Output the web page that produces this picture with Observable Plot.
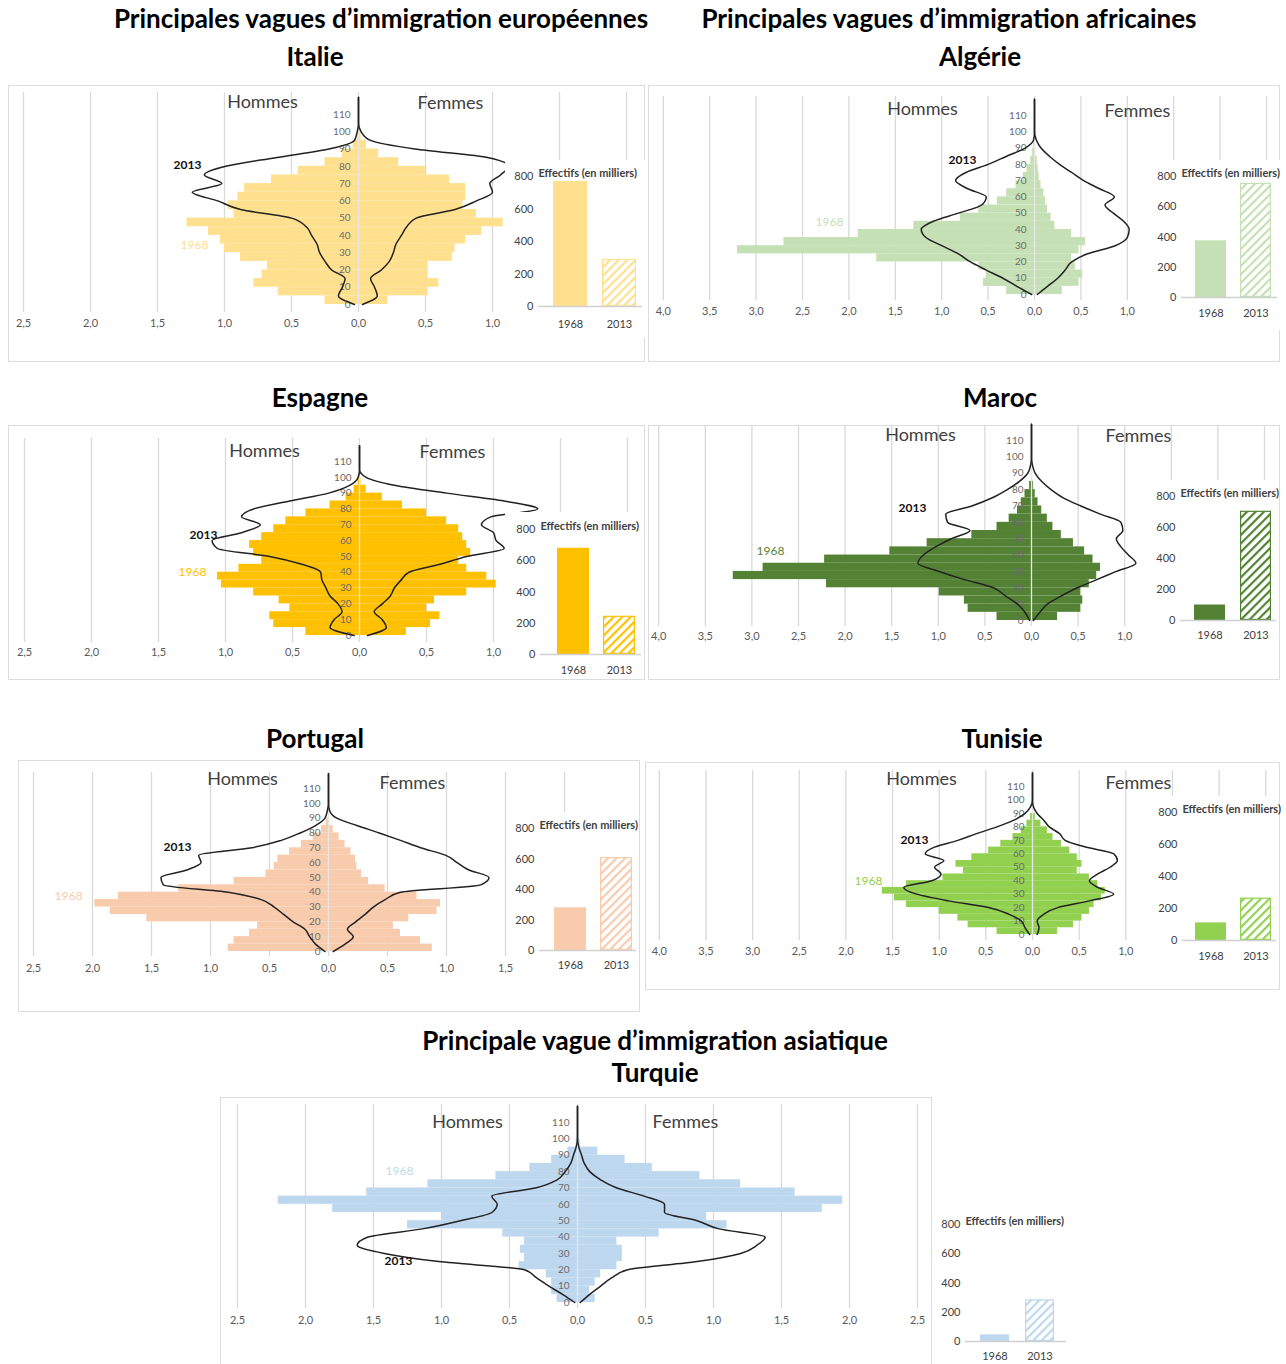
<!DOCTYPE html>
<html><head><meta charset="utf-8">
<script src="https://cdn.jsdelivr.net/npm/d3@7"></script>
<script src="https://cdn.jsdelivr.net/npm/@observablehq/plot@0.6"></script>
<style>
body{margin:0;background:#fff;font-family:Lato,"Open Sans",sans-serif}
#page{position:relative;width:1286px;height:1364px;overflow:hidden;background:#fff}
.t{position:absolute;font-weight:bold;color:#000;white-space:nowrap;transform:translate(-50%,-50%);font-size:26px;line-height:1}
.frame{position:absolute;border:1px solid #dcdcdc;box-sizing:border-box}
.abs{position:absolute}
</style></head><body><div id="page"></div>
<script>
// ---------- DATA ----------
const years = ["1968", "2013"];
const ages = [0,5,10,15,20,25,30,35,40,45,50,55,60,65,70,75,80,85,90,95,100,105,110,115,120];
const ageTicks = [0,10,20,30,40,50,60,70,80,90,100,110];
const ticksEurope = [-2.5,-2,-1.5,-1,-0.5,0,0.5,1,1.5,2];
const labelsEurope = [-2.5,-2,-1.5,-1,-0.5,0,0.5,1];
const labelsPortugal = [-2.5,-2,-1.5,-1,-0.5,0,0.5,1,1.5];
const ticksAfrique = [-4,-3.5,-3,-2.5,-2,-1.5,-1,-0.5,0,0.5,1,1.5,2,2.5];
const labelsAfrique = [-4,-3.5,-3,-2.5,-2,-1.5,-1,-0.5,0,0.5,1];
const ticksTurquie = [-2.5,-2,-1.5,-1,-0.5,0,0.5,1,1.5,2,2.5];
const effTicks = [0,200,400,600,800];

// Italie
const italieH1968 = [0.25,0.6,0.78,0.72,0.68,0.88,1.0,1.03,1.12,1.28,0.93,0.97,0.9,0.85,0.65,0.45,0.25,0.12,0.04,0.01,0,0,0,0,0];
const italieF1968 = [0.22,0.52,0.6,0.52,0.52,0.7,0.72,0.8,0.92,1.08,0.88,0.78,0.8,0.8,0.68,0.5,0.3,0.15,0.06,0.02,0,0,0,0,0];
const italieH2013 = [0.03,0.15,0.12,0.1,0.2,0.25,0.29,0.31,0.35,0.39,0.5,0.88,1.05,1.24,1.02,1.15,0.99,0.62,0.22,0.03,0.01,0,0,0,0];
const italieF2013 = [0.03,0.14,0.12,0.09,0.17,0.23,0.26,0.28,0.32,0.36,0.43,0.72,0.88,1.0,0.98,1.06,1.12,0.97,0.42,0.09,0.02,0,0,0,0];
const italieEffectifs = [770, 290];
// Algérie
const algerieH1968 = [0.3,0.55,0.52,0.6,1.7,3.2,2.7,1.9,1.3,0.8,0.6,0.4,0.3,0.2,0.12,0.08,0.04,0.02,0.01,0,0,0,0,0,0];
const algerieF1968 = [0.3,0.48,0.52,0.44,0.4,0.48,0.55,0.4,0.22,0.18,0.14,0.12,0.1,0.07,0.05,0.04,0.03,0.01,0,0,0,0,0,0,0];
const algerieH2013 = [0.03,0.19,0.34,0.52,0.69,0.82,1.0,1.17,1.22,1.09,0.82,0.57,0.52,0.72,0.85,0.74,0.5,0.3,0.1,0.01,0,0,0,0,0];
const algerieF2013 = [0.03,0.14,0.25,0.33,0.4,0.57,0.87,1.0,1.02,0.96,0.85,0.76,0.86,0.7,0.53,0.4,0.27,0.16,0.07,0.02,0,0,0,0,0];
const algerieEffectifs = [375, 755];
// Espagne
const espagneH1968 = [0.4,0.64,0.67,0.52,0.6,0.79,1.03,1.06,0.9,0.73,0.79,0.82,0.73,0.64,0.55,0.4,0.22,0.1,0.04,0.01,0,0,0,0,0];
const espagneF1968 = [0.35,0.53,0.6,0.5,0.56,0.8,1.02,0.95,0.8,0.74,0.83,0.8,0.77,0.74,0.65,0.5,0.32,0.17,0.05,0.01,0,0,0,0,0];
const espagneH2013 = [0.04,0.22,0.19,0.13,0.16,0.22,0.25,0.28,0.29,0.43,0.67,1.06,1.1,0.88,0.74,0.88,0.79,0.52,0.23,0.07,0.01,0,0,0,0];
const espagneF2013 = [0.06,0.2,0.17,0.11,0.17,0.23,0.26,0.31,0.37,0.6,0.8,1.08,1.02,1.0,0.91,0.98,1.33,1.08,0.65,0.26,0.05,0,0,0,0];
const espagneEffectifs = [680, 245];
// Maroc
const marocH1968 = [0.37,0.68,0.72,0.99,2.2,3.2,2.88,2.22,1.52,1.12,0.64,0.37,0.24,0.15,0.11,0.07,0.02,0,0,0,0,0,0,0,0];
const marocF1968 = [0.28,0.53,0.55,0.53,0.62,0.7,0.74,0.66,0.57,0.45,0.32,0.23,0.17,0.11,0.07,0.04,0.02,0,0,0,0,0,0,0,0];
const marocH2013 = [0.02,0.07,0.15,0.28,0.41,0.72,0.99,1.22,1.16,1.03,0.86,0.66,0.9,0.92,0.64,0.42,0.26,0.13,0.04,0.01,0,0,0,0,0];
const marocF2013 = [0.02,0.09,0.17,0.32,0.49,0.7,0.91,1.12,1.04,0.96,0.91,0.98,0.96,0.74,0.53,0.34,0.21,0.11,0.04,0.01,0,0,0,0,0];
const marocEffectifs = [100, 705];
// Portugal
const portugalH1968 = [0.85,0.8,0.67,0.6,1.54,1.85,1.98,1.78,1.27,0.8,0.53,0.46,0.43,0.33,0.23,0.13,0.06,0.02,0,0,0,0,0,0,0];
const portugalF1968 = [0.88,0.78,0.61,0.55,0.68,0.92,0.95,0.75,0.48,0.34,0.28,0.24,0.23,0.19,0.14,0.09,0.04,0.01,0,0,0,0,0,0,0];
const portugalH2013 = [0.03,0.11,0.16,0.2,0.3,0.38,0.46,0.57,0.85,1.4,1.42,1.2,1.08,1.1,0.65,0.4,0.24,0.11,0.03,0.01,0,0,0,0,0];
const portugalF2013 = [0.04,0.14,0.21,0.16,0.23,0.31,0.38,0.48,0.61,1.29,1.36,1.19,1.09,0.99,0.78,0.61,0.43,0.24,0.07,0.01,0,0,0,0,0];
const portugalEffectifs = [280, 610];
// Tunisie
const tunisieH1968 = [0.38,0.69,0.8,1.0,1.35,1.48,1.61,1.35,0.96,0.74,0.82,0.65,0.47,0.34,0.21,0.12,0.06,0.02,0,0,0,0,0,0,0];
const tunisieF1968 = [0.27,0.44,0.53,0.61,0.66,0.74,0.78,0.7,0.61,0.48,0.53,0.48,0.4,0.31,0.22,0.16,0.09,0.03,0,0,0,0,0,0,0];
const tunisieH2013 = [0.03,0.08,0.12,0.25,0.47,0.9,1.24,1.38,1.08,0.98,1.05,0.95,1.15,1.05,0.8,0.6,0.38,0.2,0.08,0.02,0,0,0,0,0];
const tunisieF2013 = [0.05,0.07,0.05,0.12,0.27,0.61,0.87,0.7,0.61,0.7,0.83,0.91,0.87,0.57,0.35,0.29,0.18,0.12,0.05,0.01,0,0,0,0,0];
const tunisieEffectifs = [110, 265];
// Turquie
const turquieH1968 = [0.15,0.19,0.19,0.23,0.43,0.39,0.42,0.39,0.55,1.25,1.0,1.8,2.2,1.55,1.1,0.6,0.35,0.19,0.07,0.01,0,0,0,0,0];
const turquieF1968 = [0.13,0.09,0.13,0.17,0.29,0.33,0.33,0.29,0.6,1.1,0.95,1.8,1.95,1.6,1.2,0.9,0.55,0.35,0.15,0.02,0,0,0,0,0];
const turquieH2013 = [0.02,0.11,0.21,0.3,0.39,1.02,1.42,1.62,1.54,1.14,0.86,0.63,0.59,0.63,0.31,0.15,0.09,0.05,0.03,0.01,0,0,0,0,0];
const turquieF2013 = [0.02,0.09,0.17,0.25,0.37,0.88,1.2,1.32,1.38,1.04,0.88,0.64,0.64,0.49,0.29,0.17,0.09,0.05,0.03,0.01,0,0,0,0,0];
const turquieEffectifs = [45, 285];

// ---------- TEXT ----------
const titles = [
  {text: "Principales vagues d’immigration européennes", x: 381, y: 18},
  {text: "Principales vagues d’immigration africaines", x: 949, y: 18},
  {text: "Italie", x: 315, y: 56},
  {text: "Algérie", x: 980, y: 56},
  {text: "Espagne", x: 320, y: 397},
  {text: "Maroc", x: 1000, y: 397},
  {text: "Portugal", x: 315, y: 738},
  {text: "Tunisie", x: 1002, y: 738},
  {text: "Principale vague d’immigration asiatique", x: 655, y: 1040},
  {text: "Turquie", x: 655, y: 1072}
];

// ---------- LAYOUT ----------
const panels = [
  {id: "italie", color: "#FFE08E", h68: italieH1968, f68: italieF1968, h13: italieH2013, f13: italieF2013, eff: italieEffectifs, ticks: ticksEurope, labels: labelsEurope,
   L: {frame: [8,85,645,362], x0: 358, ppu: 134, age0: 304, ppy: 1.727, gridTop: 92, gridBottom: 312, xLabelY: 323,
       hommes: [262,102], femmes: [450,103], t2013: [187,165], t1968: [194,245]},
   B: {left: 505, top: 160, width: 140, height: 178, axisX: 538, y0: 306, y800: 176, b1: 553, b2: 602, bw: 34, xLabY: 324}},
  {id: "algerie", color: "#C5E0B4", h68: algerieH1968, f68: algerieF1968, h13: algerieH2013, f13: algerieF2013, eff: algerieEffectifs, ticks: ticksAfrique, labels: labelsAfrique,
   L: {frame: [648,85,1280,362], x0: 1034, ppu: 92.8, age0: 294, ppy: 1.627, gridTop: 96, gridBottom: 300, xLabelY: 311,
       hommes: [922,109], femmes: [1137,111], t2013: [962,160], t1968: [829,222]},
   B: {left: 1150, top: 160, width: 130, height: 170, axisX: 1181, y0: 297, y800: 176, b1: 1195, b2: 1240, bw: 31, xLabY: 313}},
  {id: "espagne", color: "#FFC000", h68: espagneH1968, f68: espagneF1968, h13: espagneH2013, f13: espagneF2013, eff: espagneEffectifs, ticks: ticksEurope, labels: labelsEurope,
   L: {frame: [8,425,645,680], x0: 359, ppu: 134, age0: 635, ppy: 1.582, gridTop: 438, gridBottom: 642, xLabelY: 652,
       hommes: [264,451], femmes: [452,452], t2013: [203,535], t1968: [192,572]},
   B: {left: 505, top: 512, width: 139, height: 166, axisX: 540, y0: 654, y800: 529, b1: 556, b2: 603, bw: 33, xLabY: 670}},
  {id: "maroc", color: "#548235", h68: marocH1968, f68: marocF1968, h13: marocH2013, f13: marocF2013, eff: marocEffectifs, ticks: ticksAfrique, labels: labelsAfrique,
   L: {frame: [648,425,1280,680], x0: 1031, ppu: 93.2, age0: 620, ppy: 1.636, gridTop: 426, gridBottom: 626, xLabelY: 636,
       hommes: [920,435], femmes: [1138,436], t2013: [912,508], t1968: [770,551]},
   B: {left: 1150, top: 480, width: 129, height: 165, axisX: 1180, y0: 620, y800: 496, b1: 1194, b2: 1240, bw: 31, xLabY: 635}},
  {id: "portugal", color: "#F8CBAD", h68: portugalH1968, f68: portugalF1968, h13: portugalH2013, f13: portugalF2013, eff: portugalEffectifs, ticks: ticksEurope, labels: labelsPortugal,
   L: {frame: [18,760,640,1012], x0: 328, ppu: 118, age0: 951, ppy: 1.482, gridTop: 772, gridBottom: 956, xLabelY: 968,
       hommes: [242,779], femmes: [412,783], t2013: [177,847], t1968: [68,896]},
   B: {left: 517, top: 812, width: 122, height: 165, axisX: 539, y0: 950, y800: 828, b1: 554, b2: 600, bw: 32, xLabY: 965}},
  {id: "tunisie", color: "#92D050", h68: tunisieH1968, f68: tunisieF1968, h13: tunisieH2013, f13: tunisieF2013, eff: tunisieEffectifs, ticks: ticksAfrique, labels: labelsAfrique,
   L: {frame: [645,762,1280,990], x0: 1032, ppu: 93.3, age0: 934, ppy: 1.345, gridTop: 770, gridBottom: 940, xLabelY: 951,
       hommes: [921,779], femmes: [1138,783], t2013: [914,840], t1968: [868,881]},
   B: {left: 1150, top: 796, width: 129, height: 172, axisX: 1182, y0: 940, y800: 812, b1: 1195, b2: 1240, bw: 31, xLabY: 956}},
  {id: "turquie", color: "#BDD7EE", h68: turquieH1968, f68: turquieF1968, h13: turquieH2013, f13: turquieF2013, eff: turquieEffectifs, ticks: ticksTurquie, labels: ticksTurquie,
   L: {frame: [220,1097,932,1366], x0: 577, ppu: 136, age0: 1302, ppy: 1.636, gridTop: 1104, gridBottom: 1308, xLabelY: 1320,
       hommes: [467,1122], femmes: [685,1122], t2013: [398,1261], t1968: [399,1171]},
   B: {left: 935, top: 1208, width: 134, height: 156, axisX: 965, y0: 1341, y800: 1224, b1: 980, b2: 1025, bw: 29, xLabY: 1356}}
];

const page = document.getElementById("page");
const fmt = d => Math.abs(d).toFixed(1).replace(".", ",");
const FONT = "Lato, 'Open Sans', sans-serif";
const LINE = "#222222";

for (const t of titles) {
  const div = document.createElement("div");
  div.className = "t";
  div.style.left = t.x + "px";
  div.style.top = t.y + "px";
  div.textContent = t.text;
  page.appendChild(div);
}

function place(el, left, top) {
  const wrap = document.createElement("div");
  wrap.className = "abs";
  wrap.style.left = left + "px";
  wrap.style.top = top + "px";
  wrap.appendChild(el);
  page.appendChild(wrap);
}

function drawPyramid(p) {
  const L = p.L;
  const [fx0, fy0, fx1, fy1] = L.frame;
  const W = fx1 - fx0, H = fy1 - fy0;
  const frame = document.createElement("div");
  frame.className = "frame";
  Object.assign(frame.style, {left: fx0 + "px", top: fy0 + "px", width: W + "px", height: H + "px"});
  page.appendChild(frame);

  const sx = v => L.x0 + v * L.ppu - fx0;
  const sy = a => L.age0 - a * L.ppy - fy0;
  const vx = X => (X - L.x0) / L.ppu;
  const vy = Y => (L.age0 - Y) / L.ppy;
  const rows = ages.map((a, i) => ({age: a, h68: p.h68[i], f68: p.f68[i], h13: p.h13[i], f13: p.f13[i]}));
  const xdom = [p.ticks[0], p.ticks[p.ticks.length - 1]];
  const svg = Plot.plot({
    width: W, height: H,
    marginTop: L.gridTop - fy0, marginBottom: fy1 - L.gridBottom, marginLeft: 0, marginRight: 0,
    x: {domain: xdom, range: [sx(xdom[0]), sx(xdom[1])], ticks: p.labels, tickFormat: fmt, tickSize: 0,
        tickPadding: L.xLabelY - L.gridBottom - 4, label: null},
    y: {domain: [0, 110], range: [sy(0), sy(110)], axis: null},
    style: {fontFamily: FONT, fontSize: "11px", color: "#595959", background: "transparent", overflow: "visible"},
    marks: [
      Plot.ruleX(p.ticks, {stroke: "#d9d9d9", strokeWidth: 1.3}),
      Plot.rectX(rows, {x1: 0, x2: d => -d.h68, y1: "age", y2: d => d.age + 5, fill: p.color}),
      Plot.rectX(rows, {x1: 0, x2: "f68", y1: "age", y2: d => d.age + 5, fill: p.color}),
      Plot.ruleX([0], {y1: 0, y2: 100, stroke: "#e6e6e6", strokeWidth: 1.3}),
      Plot.text(ageTicks, {x: 0, y: d => d, text: d => String(d), dx: -8, textAnchor: "end", fontSize: 10, fill: "#6b6b6b"}),
      Plot.line(rows, {x: d => -d.h13, y: "age", curve: "monotone-y", stroke: LINE, strokeWidth: 1.5}),
      Plot.line(rows, {x: "f13", y: "age", curve: "monotone-y", stroke: LINE, strokeWidth: 1.5}),
      Plot.text(["Hommes"], {x: vx(L.hommes[0]), y: vy(L.hommes[1]), text: d => d, fontSize: 18, fill: "#404040"}),
      Plot.text(["Femmes"], {x: vx(L.femmes[0]), y: vy(L.femmes[1]), text: d => d, fontSize: 18, fill: "#404040"}),
      Plot.text(["2013"], {x: vx(L.t2013[0]), y: vy(L.t2013[1]), text: d => d, fontSize: 12, fontWeight: "bold", fill: "#111"}),
      Plot.text(["1968"], {x: vx(L.t1968[0]), y: vy(L.t1968[1]), text: d => d, fontSize: 12, fill: p.color})
    ]
  });
  place(svg, fx0, fy0);
}

function drawBars(p) {
  const B = p.B;
  const data = years.map((y, i) => ({year: y, value: p.eff[i]}));
  const step = B.b2 - B.b1;
  const pad = 1 - B.bw / step;
  const xr = [B.b1 - pad * step - B.left, B.b2 + B.bw + pad * step - B.left];
  const hatchId = "hatch-" + p.id;
  const svg = Plot.plot({
    width: B.width, height: B.height,
    marginLeft: B.axisX - B.left, marginRight: 3, marginTop: 0, marginBottom: B.top + B.height - B.y0,
    x: {domain: years, range: xr, padding: pad, tickSize: 0, tickPadding: B.xLabY - B.y0 - 4, label: null},
    y: {domain: [0, 800], range: [B.y0 - B.top, B.y800 - B.top], ticks: effTicks, tickSize: 0, tickPadding: 5, label: null},
    style: {fontFamily: FONT, fontSize: "11px", color: "#404040", background: "white", overflow: "visible"},
    marks: [
      Plot.barY(data.filter(d => d.year === "1968"), {x: "year", y: "value", fill: p.color, inset: 0}),
      Plot.barY(data.filter(d => d.year === "2013"), {x: "year", y: "value", fill: `url(#${hatchId})`, stroke: p.color, strokeWidth: 1.2, inset: 0.6}),
      Plot.ruleY([0], {stroke: "#d0d0d0", strokeWidth: 1.3}),
      Plot.text(["Effectifs (en milliers)"], {frameAnchor: "left", y: 800, dy: -3, text: d => d, textAnchor: "start",
        fontWeight: "bold", fontSize: 11, fill: "#404040"})
    ]
  });
  const defs = d3.select(svg).insert("defs", ":first-child");
  const pat = defs.append("pattern").attr("id", hatchId).attr("patternUnits", "userSpaceOnUse")
    .attr("width", 6).attr("height", 6).attr("patternTransform", "rotate(45)");
  pat.append("rect").attr("width", 6).attr("height", 6).attr("fill", "white");
  pat.append("rect").attr("x", 0).attr("y", 0).attr("width", 2.2).attr("height", 6).attr("fill", p.color);
  place(svg, B.left, B.top);
}

for (const p of panels) drawPyramid(p);
for (const p of panels) drawBars(p);
</script></body></html>
